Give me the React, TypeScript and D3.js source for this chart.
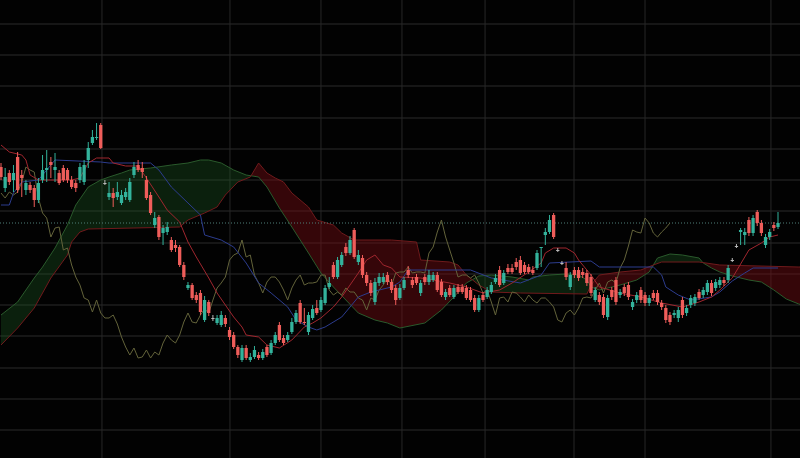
import React from 'react';
import * as d3 from 'd3';

const W = 800;
const H = 458;

// OHLC (price units), one per bar
const opens = [
  293, 272, 287, 280, 303, 285, 270, 275, 272, 260,
  280, 290, 298, 290, 287, 292, 290, 280, 277, 280,
  278, 300, 317, 322, 335, 277, 263, 267, 263, 257,
  263, 260, 285, 295, 292, 280, 265, 235, 243, 227,
  228, 220, 215, 213, 195, 172, 175, 165, 167, 140,
  158, 142, 137, 135, 142, 130, 125, 113, 100, 112,
  100, 103, 105, 102, 113, 107, 117, 135, 122, 120,
  128, 138, 157, 138, 128, 142, 152, 150, 157, 173,
  195, 183, 195, 213, 207, 230, 198, 202, 185, 177,
  158, 177, 178, 185, 178, 172, 162, 172, 190, 180,
  183, 167, 183, 178, 180, 185, 178, 163, 172, 163,
  173, 173, 172, 170, 162, 150, 165, 163, 168, 178,
  190, 177, 192, 192, 198, 200, 195, 193, 190, 192,
  212, 225, 228, 245, 210, 197, 192, 173, 190, 190,
  188, 187, 183, 160, 165, 163, 143, 170, 180, 165,
  173, 175, 153, 160, 170, 165, 157, 167, 167, 157,
  152, 145, 145, 142, 160, 147, 155, 157, 168, 165,
  168, 177, 172, 175, 180, 180, 200, 214, 228, 225,
  240, 227, 248, 237, 215, 223, 235, 233,
];
const highs = [
  297, 292, 290, 295, 308, 290, 280, 278, 275, 282,
  305, 310, 303, 307, 290, 295, 292, 284, 280, 297,
  300, 318, 330, 337, 337, 280, 278, 272, 278, 270,
  272, 282, 298, 300, 298, 284, 268, 248, 245, 235,
  238, 223, 220, 215, 198, 178, 177, 168, 170, 164,
  160, 145, 145, 149, 145, 133, 128, 115, 115, 115,
  107, 114, 108, 111, 115, 120, 128, 138, 125, 128,
  142, 150, 160, 152, 148, 155, 160, 163, 175, 183,
  198, 203, 208, 217, 224, 232, 210, 205, 188, 180,
  182, 187, 187, 188, 181, 175, 176, 183, 194, 183,
  186, 180, 186, 190, 188, 188, 181, 171, 175, 175,
  176, 176, 175, 173, 165, 165, 168, 173, 178, 186,
  194, 190, 196, 196, 202, 204, 198, 196, 194, 210,
  213, 232, 245, 247, 212, 199, 198, 188, 193, 193,
  192, 190, 186, 173, 168, 166, 165, 173, 183, 171,
  176, 178, 161, 168, 173, 168, 165, 170, 170, 160,
  155, 148, 150, 153, 163, 155, 165, 166, 171, 173,
  180, 180, 181, 183, 183, 195, 202, 216, 232, 232,
  243, 245, 250, 240, 226, 231, 238, 248,
];
const lows = [
  280, 268, 275, 268, 267, 263, 265, 267, 253, 257,
  277, 278, 282, 278, 275, 278, 277, 271, 268, 277,
  275, 292, 315, 320, 311, 275, 260, 253, 260, 255,
  260, 258, 282, 288, 282, 260, 245, 232, 220, 215,
  225, 208, 208, 193, 180, 170, 160, 157, 145, 138,
  144, 139, 135, 133, 133, 120, 111, 102, 98, 100,
  98, 101, 100, 100, 103, 105, 115, 118, 115, 118,
  126, 136, 136, 135, 125, 140, 145, 148, 155, 171,
  181, 181, 193, 204, 205, 201, 195, 182, 174, 164,
  155, 174, 176, 175, 167, 155, 160, 170, 182, 172,
  175, 164, 175, 175, 178, 168, 163, 160, 163, 161,
  166, 166, 160, 158, 148, 148, 158, 161, 166, 176,
  173, 175, 186, 186, 190, 185, 186, 186, 185, 190,
  193, 215, 226, 221, 208, 195, 180, 170, 182, 179,
  182, 174, 164, 158, 155, 142, 140, 160, 155, 162,
  164, 160, 150, 157, 157, 154, 154, 160, 155, 150,
  137, 135, 142, 138, 142, 144, 152, 154, 160, 162,
  165, 164, 169, 172, 174, 177, 198, 212, 215, 215,
  224, 224, 234, 224, 212, 220, 229, 231,
];
const closes = [
  283, 283, 278, 287, 270, 282, 277, 270, 260, 277,
  290, 292, 295, 293, 277, 280, 280, 273, 272, 293,
  295, 312, 323, 323, 312, 277, 267, 262, 268, 265,
  268, 278, 293, 290, 288, 262, 247, 242, 223, 232,
  233, 210, 212, 195, 183, 175, 162, 160, 148, 160,
  147, 142, 142, 145, 136, 123, 113, 105, 112, 102,
  103, 110, 102, 108, 105, 117, 125, 120, 117, 125,
  138, 147, 138, 137, 145, 151, 147, 160, 172, 177,
  183, 200, 205, 207, 220, 203, 205, 185, 177, 167,
  178, 183, 183, 178, 170, 160, 172, 180, 185, 175,
  177, 177, 178, 185, 185, 170, 165, 168, 165, 172,
  168, 168, 162, 160, 150, 162, 160, 170, 175, 182,
  175, 187, 188, 188, 193, 187, 188, 188, 187, 207,
  213, 228, 240, 223, 210, 197, 183, 185, 185, 182,
  185, 177, 167, 170, 158, 145, 162, 163, 158, 168,
  167, 163, 158, 165, 160, 157, 162, 162, 158, 153,
  140, 138, 147, 150, 145, 152, 162, 163, 162, 170,
  177, 167, 178, 180, 177, 192, 200, 214, 230, 228,
  227, 242, 237, 227, 223, 228, 232, 237,
];

// Ichimoku lines, [bar index, price]
const conversionLine: [number, number][] = [
  [0, 315], [2, 308], [5, 305], [6, 300], [7, 285], [9, 280], [12, 280], [17, 280], [19, 282],
  [21, 297], [23, 302], [26, 302], [27, 297], [30, 294], [33, 294], [35, 282], [38, 263], [40, 250],
  [43, 238], [45, 218], [47, 203], [50, 182], [52, 167], [54, 155], [56, 143], [58, 133], [59, 125],
  [62, 123], [64, 115], [67, 112], [70, 120], [73, 133], [75, 137], [77, 142], [80, 153], [82, 163],
  [84, 175], [86, 187], [88, 200], [90, 205], [92, 195], [94, 192], [96, 183], [101, 182], [104, 180],
  [108, 177], [112, 173], [116, 167], [120, 170], [123, 177], [127, 188], [130, 197], [131, 207],
  [133, 212], [136, 212], [138, 207], [139, 200], [142, 185], [144, 173], [149, 167], [154, 163],
  [159, 157], [164, 153], [168, 158], [171, 163], [173, 170], [176, 182], [178, 196], [180, 210],
  [183, 217], [185, 223], [187, 225],
];
const baseLine: [number, number][] = [
  [0, 255], [2, 255], [3, 267], [5, 278], [9, 280], [13, 300], [24, 298], [26, 297], [36, 297],
  [38, 290], [41, 273], [45, 257], [48, 245], [49, 225], [53, 220], [56, 213], [59, 197], [62, 177],
  [65, 167], [69, 153], [71, 140], [74, 133], [76, 130], [78, 133], [82, 143], [84, 153], [86, 163],
  [89, 168], [91, 170], [94, 173], [96, 178], [98, 190], [113, 190], [118, 182], [125, 177],
  [130, 185], [132, 197], [142, 199], [144, 193], [157, 193], [159, 185], [160, 173], [163, 165],
  [166, 160], [171, 163], [173, 168], [176, 179], [179, 187], [181, 192], [187, 192],
];
const leadingSpanA: [number, number][] = [
  [0, 145], [4, 158], [8, 182], [10, 193], [13, 212], [16, 235], [18, 255], [21, 273], [24, 280],
  [26, 283], [29, 287], [31, 290], [36, 292], [41, 295], [45, 297], [48, 300], [50, 300], [53, 297],
  [56, 290], [59, 285], [62, 283], [64, 273], [67, 252], [70, 233], [74, 207], [77, 187], [80, 173],
  [83, 160], [86, 147], [90, 140], [93, 137], [96, 132], [102, 137], [106, 150], [109, 163],
  [112, 177], [115, 184], [118, 185], [123, 183], [127, 180], [128, 183], [132, 185], [136, 186],
  [139, 185], [141, 180], [142, 173], [144, 170], [149, 175], [153, 180], [156, 188], [158, 202],
  [161, 206], [164, 205], [168, 202], [169, 197], [171, 192], [173, 188], [176, 184], [180, 180],
  [183, 178], [186, 170], [189, 161], [192, 156], [195, 152],
];
const leadingSpanB: [number, number][] = [
  [0, 115], [4, 132], [8, 152], [12, 182], [16, 205], [17, 218], [19, 228], [21, 231], [32, 232],
  [43, 233], [45, 240], [49, 247], [52, 253], [54, 265], [57, 278], [60, 283], [62, 297], [64, 287],
  [66, 282], [68, 278], [70, 267], [74, 253], [76, 240], [80, 235], [82, 227], [85, 220], [94, 220],
  [100, 218], [101, 200], [108, 198], [110, 195], [112, 185], [115, 175], [118, 168], [125, 167],
  [141, 166], [142, 175], [144, 185], [149, 188], [154, 190], [157, 195], [159, 198], [168, 198],
  [173, 195], [192, 193], [195, 193],
];

const gridPrices = [436, 405, 374, 342, 311, 280, 249, 217, 186, 155, 124, 92, 61, 30];
const gridBars = [24.3, 55.1, 77, 96.5, 116.5, 137.9, 155, 185.3];
const LAG = 26;

const UP = '#33b39c';
const DOWN = '#ef5d5a';
const DOJI = '#b8b8b8';

export default function App() {
  const n = closes.length;
  const x = d3.scaleLinear().domain([0, n - 1]).range([1, 778]);
  const y = d3.scaleLinear().domain([2, 460]).range([458, 0]);
  const line = d3
    .line<[number, number]>()
    .x((d) => x(d[0]))
    .y((d) => y(d[1]));

  const lagging: [number, number][] = closes.slice(LAG).map((c, j) => [j, c]);

  const cloudPoly = line([...leadingSpanA, ...leadingSpanB.slice().reverse()]) + 'Z';
  const bPath = line(leadingSpanB) as string;
  const bFirst = x(leadingSpanB[0][0]);
  const bLast = x(leadingSpanB[leadingSpanB.length - 1][0]);
  const aboveB = `${bPath}L${bLast},-20L${bFirst},-20Z`;
  const belowB = `${bPath}L${bLast},${H + 20}L${bFirst},${H + 20}Z`;

  const lastClose = closes[n - 1];
  const bodyW = 3.3;

  return (
    <svg
      width={W}
      height={H}
      style={{ position: 'fixed', left: 0, top: 0, display: 'block' }}
    >
      <defs>
        <clipPath id="aboveB">
          <path d={aboveB} />
        </clipPath>
        <clipPath id="belowB">
          <path d={belowB} />
        </clipPath>
      </defs>
      <rect x={0} y={0} width={W} height={H} fill="#020202" />
      <g>
        {gridPrices.map((p) => (
          <line key={'h' + p} x1={0} x2={W} y1={y(p)} y2={y(p)} stroke="#2b2b2b" strokeWidth={1} />
        ))}
        {gridBars.map((b) => (
          <line key={'v' + b} x1={x(b)} x2={x(b)} y1={0} y2={H} stroke="#272727" strokeWidth={1} />
        ))}
      </g>
      <path d={cloudPoly} fill="rgba(30,95,35,0.33)" clipPath="url(#aboveB)" />
      <path d={cloudPoly} fill="rgba(125,12,20,0.42)" clipPath="url(#belowB)" />
      <path d={line(leadingSpanA) as string} fill="none" stroke="#2a5a2c" strokeWidth={1} />
      <path d={line(leadingSpanB) as string} fill="none" stroke="#701a1c" strokeWidth={1} />
      <line
        x1={0}
        x2={W}
        y1={y(lastClose)}
        y2={y(lastClose)}
        stroke="#4f7f78"
        strokeWidth={1}
        strokeDasharray="1 2"
      />
      <path d={line(lagging) as string} fill="none" stroke="#63633a" strokeWidth={1} />
      <path d={line(baseLine) as string} fill="none" stroke="#2c3c8e" strokeWidth={1} />
      <path d={line(conversionLine) as string} fill="none" stroke="#a0262e" strokeWidth={1} />
      <g>
        {closes.map((c, i) => {
          const o = opens[i];
          const color = o === c ? DOJI : c > o ? UP : DOWN;
          const top = y(Math.max(o, c));
          const bot = y(Math.min(o, c));
          const cx = x(i);
          return (
            <g key={i}>
              <line x1={cx} x2={cx} y1={y(highs[i])} y2={y(lows[i])} stroke={color} strokeWidth={1} />
              <rect
                x={cx - bodyW / 2}
                y={top}
                width={bodyW}
                height={Math.max(1, bot - top)}
                fill={color}
              />
            </g>
          );
        })}
      </g>
    </svg>
  );
}
